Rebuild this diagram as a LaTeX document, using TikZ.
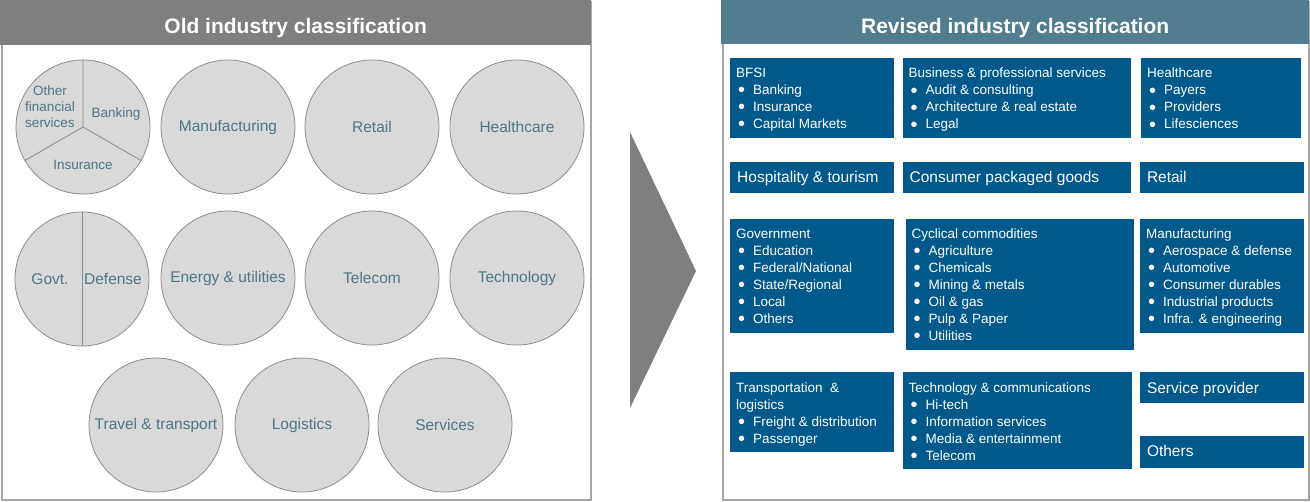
\documentclass[tikz,border=0pt]{standalone}
\usepackage{fontspec}
\setmainfont{Liberation Sans}
\usepackage{tikz}
\usetikzlibrary{calc,positioning}

\definecolor{hdgray}{RGB}{127,127,127}
\definecolor{hdblue}{RGB}{82,125,145}
\definecolor{boxblue}{RGB}{0,89,139}
\definecolor{framegray}{RGB}{166,166,166}
\definecolor{discfill}{RGB}{217,217,217}
\definecolor{discline}{RGB}{140,140,140}
\definecolor{disctext}{RGB}{78,118,134}

\newcommand{\itm}{\makebox[17pt][l]{\hspace{2pt}\raisebox{-2.2pt}{\fontsize{20}{20}\selectfont\textbullet}}}

\tikzset{
	frame/.style={draw=framegray, line width=1.5pt, anchor=north west, inner sep=0pt},
	headbar/.style={anchor=north west, inner sep=0pt, minimum height=45pt},
	headtext/.style={anchor=base, inner sep=0pt, text=white, font=\fontsize{21}{25}\selectfont\bfseries},
	disc/.style={circle, draw=discline, line width=0.8pt, fill=discfill, minimum size=134pt, inner sep=0pt,
		text=disctext, font=\fontsize{15.5}{18}\selectfont},
	slice/.style={draw=discline, line width=0.8pt},
	disclabel/.style={inner sep=0pt, text=disctext, font=\fontsize{15.5}{18}\selectfont},
	slicelabel/.style={inner sep=0pt, text=disctext, align=center, font=\fontsize{13.5}{16}\selectfont},
	catbox/.style={fill=boxblue, anchor=north west, inner sep=0pt, minimum width=164pt},
	catlist/.style={anchor=north west, inner sep=0pt, text=white, align=left, font=\fontsize{13.5}{17}\selectfont},
	catname/.style={anchor=base west, inner sep=0pt, text=white, font=\fontsize{15.5}{18}\selectfont},
}

\begin{document}
\begin{tikzpicture}[x=1pt,y=-1pt]
	\useasboundingbox (0,0) rectangle (1310,501);
	% old classification
	\begin{scope}
		\node[frame, minimum width=589pt, minimum height=498pt] (oldp) at (1,1) {};
		\node[headbar, fill=hdgray, minimum width=591pt] (oldh) at (0,0) {};
		\node[headtext] (oldt) at ($(oldh.north)+(0,33)$) {Old industry classification};
		\node[disc] (c-bfsi) at (83,127) {};
		\draw[slice] (c-bfsi.center) -- (c-bfsi.90)
			(c-bfsi.center) -- (c-bfsi.210)
			(c-bfsi.center) -- (c-bfsi.330);
		\node[slicelabel] (l-ofs) at ($(c-bfsi)+(-33,-20)$) {Other\\financial\\services};
		\node[slicelabel] (l-bank) at ($(c-bfsi)+(33,-13)$) {Banking};
		\node[slicelabel] (l-ins) at ($(c-bfsi)+(0,38)$) {Insurance};
		\node[disc] (c-mfg) at (228,127) {Manufacturing};
		\node[disc] (c-ret) at (372,127) {Retail};
		\node[disc] (c-hc) at (517,127) {Healthcare};
		\node[disc] (c-gov) at (82,279) {};
		\draw[slice] (c-gov.90) -- (c-gov.270);
		\node[disclabel] (l-govt) at ($(c-gov)+(-32,0)$) {Govt.};
		\node[disclabel] (l-def) at ($(c-gov)+(31,0)$) {Defense};
		\node[disc] (c-enu) at (228,278) {Energy \& utilities};
		\node[disc] (c-tel) at (372,278) {Telecom};
		\node[disc] (c-tech) at (517,278) {Technology};
		\node[disc] (c-trv) at (156,425) {Travel \& transport};
		\node[disc] (c-log) at (302,425) {Logistics};
		\node[disc] (c-srv) at (445,425) {Services};
	\end{scope}
	% arrow
	\fill[hdgray] (630,132) -- (696,271) -- (630,408) -- cycle;
	% revised classification
	\begin{scope}
		\node[frame, minimum width=586pt, minimum height=498pt] (newp) at (722,1) {};
		\node[headbar, fill=hdblue, minimum width=588pt, minimum height=44pt] (newh) at (721,0) {};
		\node[headtext] (newt) at ($(newh.north)+(0,33)$) {Revised industry classification};
		% row 1
		\node[catbox, minimum height=80pt] (bfsi) at (730,58) {};
		\node[catbox, minimum width=228pt, minimum height=80pt, right=8pt of bfsi.north east, anchor=north west] (bps) {};
		\node[catbox, minimum width=160pt, minimum height=80pt, right=10pt of bps.north east, anchor=north west] (hc) {};
		\node[catlist] (bfsi-t) at ($(bfsi.north west)+(6,10)$) {BFSI\\\itm Banking\\\itm Insurance\\\itm Capital Markets};
		\node[catlist] (bps-t) at ($(bps.north west)+(6,10)$) {Business \& professional services\\\itm Audit \& consulting\\\itm Architecture \& real estate\\\itm Legal};
		\node[catlist] (hc-t) at ($(hc.north west)+(6,10)$) {Healthcare\\\itm Payers\\\itm Providers\\\itm Lifesciences};
		% row 2
		\node[catbox, minimum height=31pt, below=23pt of bfsi.south west, anchor=north west] (hosp) {};
		\node[catbox, minimum width=228pt, minimum height=31pt, right=8pt of hosp.north east, anchor=north west] (cpg) {};
		\node[catbox, minimum height=31pt, right=9pt of cpg.north east, anchor=north west] (ret) {};
		\node[catname] (hosp-t) at ($(hosp.north west)+(7,21)$) {Hospitality \& tourism};
		\node[catname] (cpg-t) at ($(cpg.north west)+(7,21)$) {Consumer packaged goods};
		\node[catname] (ret-t) at ($(ret.north west)+(7,21)$) {Retail};
		% row 3
		\node[catbox, minimum height=114pt, below=26pt of hosp.south west, anchor=north west] (gov) {};
		\node[catbox, minimum width=228pt, minimum height=131pt, right=11pt of gov.north east, anchor=north west] (cyc) {};
		\node[catbox, minimum height=114pt, right=6pt of cyc.north east, anchor=north west] (mfg) {};
		\node[catlist] (gov-t) at ($(gov.north west)+(6,10)$) {Government\\\itm Education\\\itm Federal/National\\\itm State/Regional\\\itm Local\\\itm Others};
		\node[catlist] (cyc-t) at ($(cyc.north west)+(6,10)$) {Cyclical commodities\\\itm Agriculture\\\itm Chemicals\\\itm Mining \& metals\\\itm Oil \& gas\\\itm Pulp \& Paper\\\itm Utilities};
		\node[catlist] (mfg-t) at ($(mfg.north west)+(6,10)$) {Manufacturing\\\itm Aerospace \& defense\\\itm Automotive\\\itm Consumer durables\\\itm Industrial products\\\itm Infra. \& engineering};
		% row 4
		\node[catbox, minimum height=80pt, below=39pt of gov.south west, anchor=north west] (trn) {};
		\node[catbox, minimum width=229pt, minimum height=97pt, right=8pt of trn.north east, anchor=north west] (tec) {};
		\node[catbox, minimum height=31pt, right=8pt of tec.north east, anchor=north west] (svp) {};
		\node[catbox, minimum height=32pt, below=32pt of svp.south west, anchor=north west] (oth) {};
		\node[catlist] (trn-t) at ($(trn.north west)+(6,10)$) {Transportation \ \&\\logistics\\\itm Freight \& distribution\\\itm Passenger};
		\node[catlist] (tec-t) at ($(tec.north west)+(6,10)$) {Technology \& communications\\\itm Hi-tech\\\itm Information services\\\itm Media \& entertainment\\\itm Telecom};
		\node[catname] (svp-t) at ($(svp.north west)+(7,21)$) {Service provider};
		\node[catname] (oth-t) at ($(oth.north west)+(7,21)$) {Others};
	\end{scope}
\end{tikzpicture}
\end{document}
